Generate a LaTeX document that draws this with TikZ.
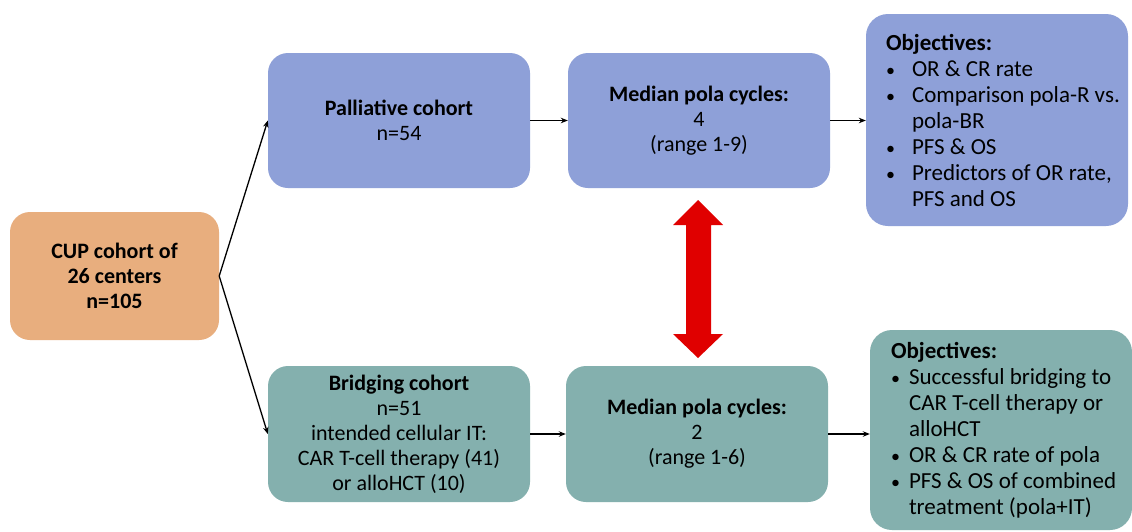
\documentclass[tikz,border=0pt]{standalone}
\usepackage{fontspec}
\setmainfont{Carlito}
\usetikzlibrary{arrows.meta}
\definecolor{peach}{HTML}{E8AE7E}
\definecolor{blu}{HTML}{8EA0D8}
\definecolor{teal}{HTML}{84B0AE}
\definecolor{redarrow}{HTML}{E00000}
\tikzset{
  box/.style={rounded corners=20pt, align=center, inner sep=0pt, font=\fontsize{22}{25}\selectfont},
  objbox/.style={rounded corners=22pt, inner sep=0pt},
  objtext/.style={anchor=west, align=left, inner sep=0pt, font=\fontsize{23}{26}\selectfont},
  conn/.style={-{Stealth[length=7pt,width=5.5pt]}, line width=1.3pt, black},
}
\newcommand{\bulA}{\makebox[26pt][l]{\fontsize{18}{18}\selectfont•}}
\newcommand{\contA}{\hspace*{26pt}}
\newcommand{\bulB}{\makebox[18pt][l]{\fontsize{18}{18}\selectfont•}}
\newcommand{\contB}{\hspace*{18pt}}
\begin{document}
\begin{tikzpicture}[x=1pt,y=-1pt]
\clip (0,0) rectangle (1132,531);
\fill[white] (0,0) rectangle (1132,531);
% boxes
\node[box, fill=peach, minimum width=209pt, minimum height=128pt] (cup) at (114.5,276) {\textbf{CUP cohort of}\\\textbf{26 centers}\\\textbf{n=105}};
\node[box, fill=blu, minimum width=262pt, minimum height=135pt] (pal) at (399,120.5) {\textbf{Palliative cohort}\\n=54};
\node[box, fill=blu, minimum width=262pt, minimum height=135pt] (med1) at (699,120.5) {\textbf{Median pola cycles:}\\4\\(range 1-9)};
\node[box, fill=teal, minimum width=262pt, minimum height=136pt] (bri) at (399,434) {\textbf{Bridging cohort}\\n=51\\intended cellular IT:\\CAR T-cell therapy (41)\\or alloHCT (10)};
\node[box, fill=teal, minimum width=262pt, minimum height=136pt] (med2) at (697,434) {\textbf{Median pola cycles:}\\2\\(range 1-6)};
\node[objbox, fill=blu, minimum width=262pt, minimum height=212pt] (obj1) at (997,120) {};
\node[objtext] (obj1t) at ([xshift=20pt]obj1.west) {\textbf{Objectives:}\\
\bulA OR \& CR rate\\
\bulA Comparison pola-R vs.\\
\contA pola-BR\\
\bulA PFS \& OS\\
\bulA Predictors of OR rate,\\
\contA PFS and OS};
\node[objbox, fill=teal, minimum width=262pt, minimum height=200pt] (obj2) at (1001,430) {};
\node[objtext] (obj2t) at ([xshift=21pt]obj2.west) {\textbf{Objectives:}\\
\bulB Successful bridging to\\
\contB CAR T-cell therapy or\\
\contB alloHCT\\
\bulB OR \& CR rate of pola\\
\bulB PFS \& OS of combined\\
\contB treatment (pola+IT)};
% connectors
\draw[conn] (cup.east) -- (pal.west);
\draw[conn] (cup.east) -- (bri.west);
\draw[conn] (pal.east) -- (med1.west);
\draw[conn] (med1.east) -- (med1.east -| obj1.west);
\draw[conn] (bri.east) -- (med2.west);
\draw[conn] (med2.east) -- (med2.east -| obj2.west);
% red double arrow
\fill[redarrow] (698,200) -- (723,225) -- (711,225) -- (711,334) -- (723,334) -- (698,358) -- (673,334) -- (686,334) -- (686,225) -- (673,225) -- cycle;
\end{tikzpicture}
\end{document}
